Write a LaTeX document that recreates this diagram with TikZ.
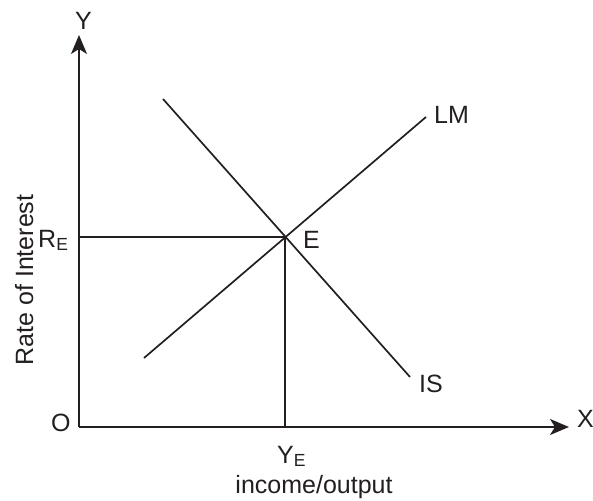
\documentclass[tikz,border=0pt]{standalone}
\usepackage{fontspec}
\setmainfont{Liberation Sans}
\usetikzlibrary{arrows.meta}
\definecolor{ink}{HTML}{231F20}

\begin{document}
\begin{tikzpicture}[
  x=1pt, y=-1pt,
  axis/.style  = {ink, line width=1.7pt, -{Stealth[length=19pt,width=16pt,inset=5pt]}},
  curve/.style = {ink, line width=1.7pt},
  guide/.style = {ink, line width=1.7pt},
  lbl/.style   = {ink, font=\fontsize{25}{29}\selectfont, inner sep=0pt, anchor=base west},
  title/.style = {ink, font=\fontsize{25}{29}\selectfont, inner sep=0pt, anchor=base},
]
  \useasboundingbox (0,0) rectangle (593,500);

  % axes
  \coordinate (o) at (79,427);
  \coordinate (ytip) at (79,35);
  \coordinate (xtip) at (569,427);
  \draw[axis] (o) -- (ytip);
  \draw[axis] (o) -- (xtip);

  % the two schedules
  \coordinate (is top) at (163,99);
  \coordinate (is end) at (410,377);
  \coordinate (lm low) at (144,358);
  \coordinate (lm end) at (426,117);
  \draw[curve] (is top) -- (is end);
  \draw[curve] (lm low) -- (lm end);

  % equilibrium and its projections
  \coordinate (e) at (285,237);
  \coordinate (re) at (o |- e);
  \coordinate (ye) at (e |- o);
  \draw[guide] (re) -- (e) -- (ye);

  \node[lbl] (ylab) at (75,30) {Y};
  \node[lbl] (xlab) at (577,427) {X};
  \node[lbl] (olab) at (51,431) {O};
  \node[lbl] (relab) at (38,247) {R\textsubscript{E}};
  \node[lbl] (yelab) at (277,463) {Y\textsubscript{E}};
  \node[lbl] (elab) at (303,248) {E};
  \node[lbl] (lmlab) at (434,123) {LM};
  \node[lbl] (islab) at (419,392) {IS};

  \node[title] (xtitle) at (314,493) {income/output};
  \node[title, rotate=90] (ytitle) at (33,280) {Rate of Interest};
\end{tikzpicture}
\end{document}
